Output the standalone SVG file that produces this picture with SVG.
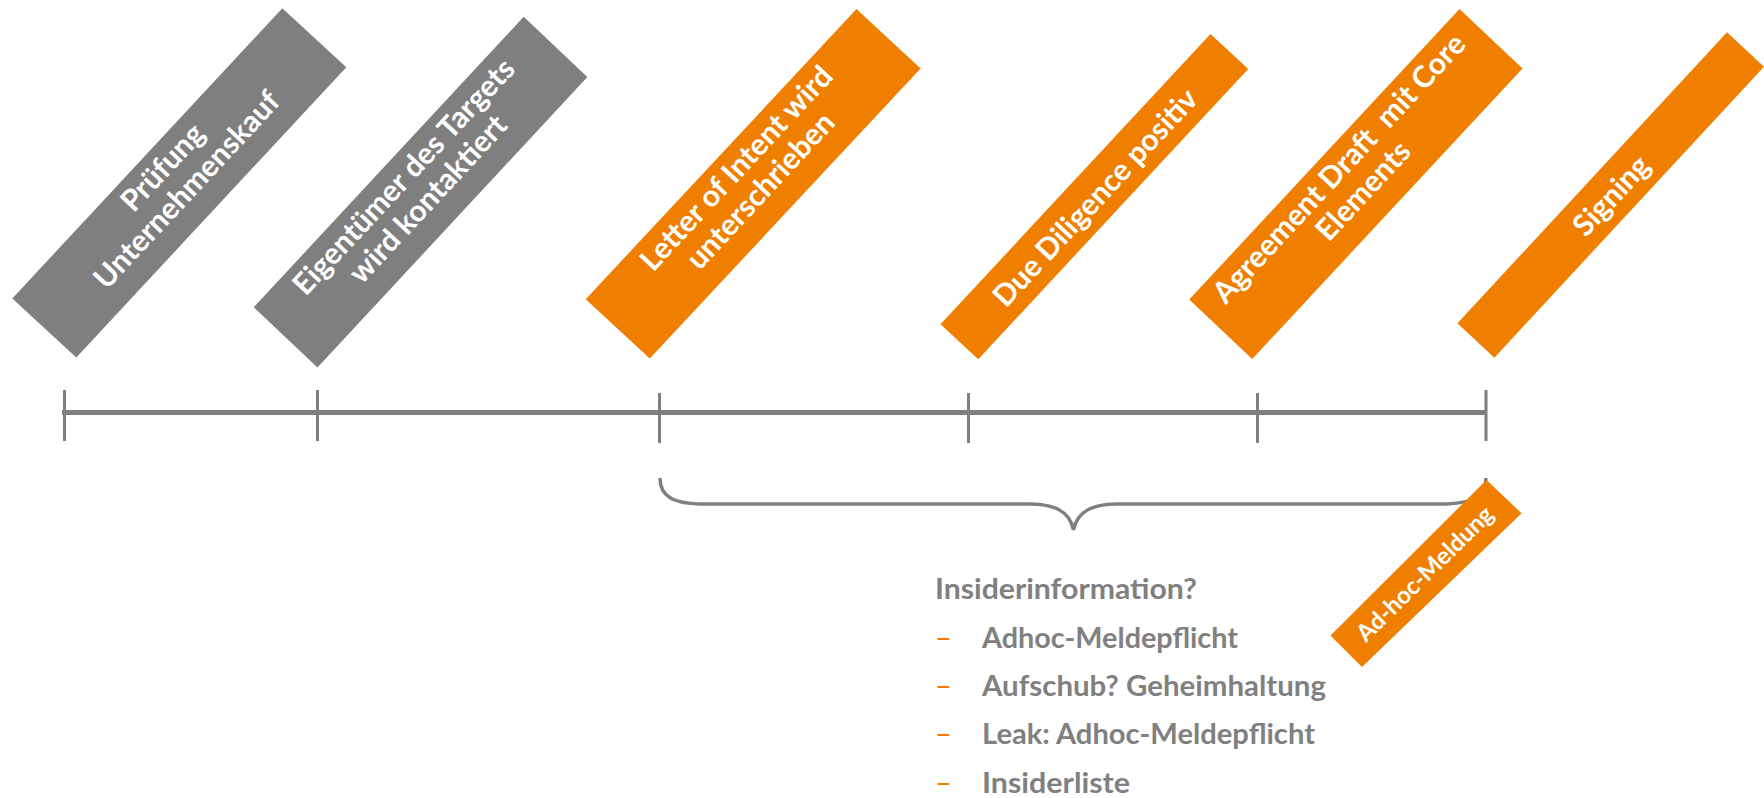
<svg xmlns="http://www.w3.org/2000/svg" width="1764" height="798" viewBox="0 0 1764 798">
<style>
.g{fill:#7f7f7f}
.o{fill:#f07f00}
.lbl{font-family:Lato,'Open Sans',sans-serif;font-weight:700;font-size:30px;fill:#ffffff;text-anchor:middle}
.sm{font-size:24px}
.lst{font-family:Lato,'Open Sans',sans-serif;font-weight:700;font-size:29px;fill:#808080}
.dash{fill:#f07f00;font-weight:400}
.ln{stroke:#7f7f7f;fill:none}
</style>
<rect width="1764" height="798" fill="#ffffff"/>
<g id="connectors">
  <line class="ln" x1="62" y1="412.5" x2="1487" y2="412.5" stroke-width="5"/>
  <g stroke-width="3">
    <line class="ln" x1="64.5" y1="390" x2="64.5" y2="441"/>
    <line class="ln" x1="317.5" y1="390" x2="317.5" y2="441"/>
    <line class="ln" x1="659.5" y1="393" x2="659.5" y2="443"/>
    <line class="ln" x1="968.5" y1="393" x2="968.5" y2="443"/>
    <line class="ln" x1="1257.5" y1="393" x2="1257.5" y2="443"/>
    <line class="ln" x1="1486" y1="390" x2="1486" y2="441"/>
  </g>
  <path class="ln" stroke-width="3.5" d="M660,478 C660,496 672,504 705,504 L1030,504 C1056,504 1070,512 1073.5,530 C1077,512 1091,504 1117,504 L1440,504 C1474,504 1486,496 1486,478"/>
</g>
<g id="n1">
  <polygon class="g" points="282.3,8.2 346.3,67.2 76.3,357.5 12.3,298.5"/>
  <g transform="translate(181,184.5) rotate(-47.08)">
    <text class="lbl" x="0" y="-15">Prüfung</text>
    <text class="lbl" x="0" y="18">Unternehmenskauf</text>
  </g>
</g>
<g id="n2">
  <polygon class="g" points="523.7,16.8 587.35,77.1 317.45,367.5 253.8,307.2"/>
  <g transform="translate(422.2,193.8) rotate(-47.08)">
    <text class="lbl" x="0" y="-15">Eigentümer des Targets</text>
    <text class="lbl" x="0" y="18">wird kontaktiert</text>
  </g>
</g>
<g id="n3">
  <polygon class="o" points="856.5,9 920.6,68.4 649.8,358.6 585.7,299.2"/>
  <g transform="translate(754.8,185.4) rotate(-47.08)">
    <text class="lbl" x="0" y="-15">Letter of Intent wird</text>
    <text class="lbl" x="0" y="18">unterschrieben</text>
  </g>
</g>
<g id="n4">
  <polygon class="o" points="1210.5,34 1248.2,69 978.2,359.3 940.5,324.3"/>
  <g transform="translate(1095.5,197.8) rotate(-47.08)">
    <text class="lbl" x="0" y="10">Due Diligence positiv</text>
  </g>
</g>
<g id="n5">
  <polygon class="o" points="1459.5,9 1522.5,68.5 1252.2,359.1 1189.2,299.6"/>
  <g transform="translate(1357.5,185.6) rotate(-47.08)">
    <text class="lbl" x="0" y="-15" style="white-space:pre">Agreement Draft  mit Core</text>
    <text class="lbl" x="0" y="18">Elements</text>
  </g>
</g>
<g id="n6">
  <polygon class="o" points="1727,32.3 1764,66.7 1494.4,357.7 1457.4,323.3"/>
  <g transform="translate(1611.5,195.8) rotate(-47.08)">
    <text class="lbl" x="0" y="10">Signing</text>
  </g>
</g>
<g id="n7">
  <polygon class="o" points="1486.5,480 1521.6,513.3 1362,667 1330.5,635.5"/>
  <g transform="translate(1425,574) rotate(-44.6)">
    <text class="lbl sm" x="0" y="8">Ad-hoc-Meldung</text>
  </g>
</g>
<g id="list">
  <text class="lst" x="935" y="599" textLength="262" lengthAdjust="spacingAndGlyphs">Insiderinformation?</text>
  <text class="lst dash" x="935" y="647.6">–</text>
  <text class="lst" x="982" y="647.6" textLength="256" lengthAdjust="spacingAndGlyphs">Adhoc-Meldepflicht</text>
  <text class="lst dash" x="935" y="696">–</text>
  <text class="lst" x="982" y="696" textLength="344" lengthAdjust="spacingAndGlyphs">Aufschub? Geheimhaltung</text>
  <text class="lst dash" x="935" y="744.4">–</text>
  <text class="lst" x="982" y="744.4" textLength="333" lengthAdjust="spacingAndGlyphs">Leak: Adhoc-Meldepflicht</text>
  <text class="lst dash" x="935" y="792.8">–</text>
  <text class="lst" x="982" y="792.8" textLength="148" lengthAdjust="spacingAndGlyphs">Insiderliste</text>
</g>
</svg>
